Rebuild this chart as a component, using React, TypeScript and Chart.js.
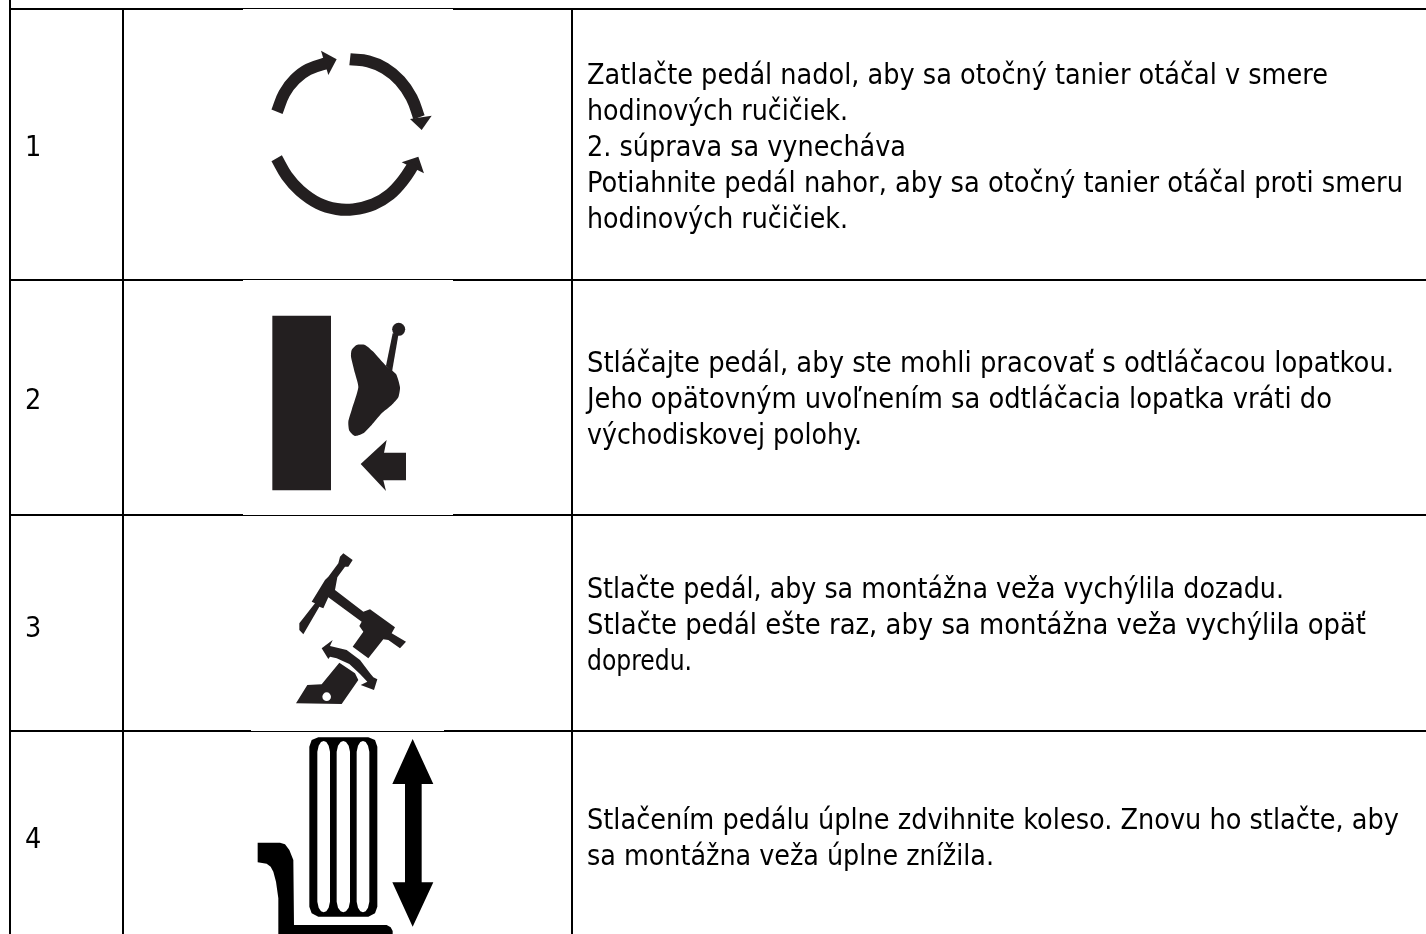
import React, { useEffect, useRef } from "react";
import { Chart, registerables } from "chart.js";

Chart.register(...registerables);

type P = [number, number];

// Table text
const rowNumbers = ["1", "2", "3", "4"];
const rowNumberBaselines = [156, 409, 637, 848];
const rowLines = [
  ["Zatlačte pedál nadol, aby sa otočný tanier otáčal v smere", "hodinových ručičiek.", "2. súprava sa vynecháva", "Potiahnite pedál nahor, aby sa otočný tanier otáčal proti smeru", "hodinových ručičiek."],
  ["Stláčajte pedál, aby ste mohli pracovať s odtláčacou lopatkou.", "Jeho opätovným uvoľnením sa odtláčacia lopatka vráti do", "východiskovej polohy."],
  ["Stlačte pedál, aby sa montážna veža vychýlila dozadu.", "Stlačte pedál ešte raz, aby sa montážna veža vychýlila opäť", "dopredu."],
  ["Stlačením pedálu úplne zdvihnite koleso. Znovu ho stlačte, aby", "sa montážna veža úplne znížila."],
];
const rowLineEnds = [
  [1328, 848, 906, 1403, 848],
  [1394, 1332, 862],
  [1284, 1366, 692],
  [1399, 994],
];
const rowFirstBaselines = [84, 372, 598, 829];

// Table rules: pairs of end points
const thickRules: [P, P][] = [
  [[10, 0], [10, 934]],
  [[123, 9], [123, 934]],
  [[572, 9], [572, 934]],
  [[9, 9], [243, 9]], [[453, 9], [1426, 9]],
  [[9, 280], [243, 280]], [[453, 280], [1426, 280]],
  [[9, 515], [243, 515]], [[453, 515], [1426, 515]],
  [[9, 731], [251, 731]], [[444, 731], [1426, 731]],
];
const thinRules: [P, P][] = [
  [[243, 8.5], [453, 8.5]],
  [[243, 279.5], [453, 279.5]],
  [[243, 515.5], [453, 515.5]],
  [[251, 731.5], [444, 731.5]],
];

// Icon 1 (3x units around 240,30): arc centre lines and arrow heads
const arcRight: P[] = [[330,88],[385,94],[435,115],[480,152],[515,203],[537,262]];
const headRight: P[] = [[575,257],[545,300],[510,267]];
const arcLeft: P[] = [[111,245],[133,190],[165,148],[205,118],[270,96]];
const headLeft: P[] = [[243,62],[290,88],[265,135]];
const arcBottom: P[] = [[110,385],[140,437],[180,482],[235,520],[290,537],[340,538],[400,523],[450,493],[490,450],[522,402]];
const headBottom: P[] = [[485,397],[535,380],[552,430]];

// Icon 2 (3x units around 250,300)
const block: P[] = [[67,47],[243,47],[243,571],[67,571]];
const stick: P[] = [[428,100],[446,100],[426,215],[408,197]];
const knob: P = [446, 88];
const pedal: P[] = [[370,155],[408,197],[438,222],[450,262],[445,292],[425,315],[395,340],[365,375],[340,400],[315,408],[298,392],[295,365],[305,330],[325,262],[315,220],[303,170],[305,150],[320,135],[345,135]];
const pushArrow: P[] = [[410,420],[402,458],[468,458],[468,541],[400,541],[408,573],[332,492]];

// Icon 3 (3x units around 280,540)
const tower: P[] = [[190,40],[218,60],[205,80],[195,80],[172,112],[165,150],[250,215],[270,208],[345,262],[335,280],[378,305],[360,325],[325,300],[310,298],[265,355],[218,320],[250,275],[238,258],[245,245],[145,172],[130,205],[118,200],[70,283],[58,270],[58,250],[105,190],[95,185],[135,120],[145,110],[175,70],[180,50]];
const tiltArrow: P[] = [[125,325],[158,300],[150,318],[200,330],[240,360],[270,400],[280,412],[292,418],[282,450],[242,435],[262,425],[240,402],[208,372],[170,355],[150,350],[145,357]];
const towerBase: P[] = [[178,368],[225,400],[235,420],[185,492],[48,490],[82,435],[125,433]];
const baseHole: P = [140, 470];

// Icon 4 (3x units around 240,725)
const tire: P[] = [[235,37],[385,37],[405,45],[412,65],[412,545],[405,565],[385,575],[235,575],[215,565],[208,545],[208,65],[215,45]];
const groove1: P[] = [[232,80],[236,62],[243,51],[251,48],[259,51],[266,62],[270,80],[270,530],[266,548],[259,559],[251,562],[243,559],[236,548],[232,530]];
const groove2: P[] = [[290,80],[294,62],[302,51],[310,48],[318,51],[326,62],[330,80],[330,530],[326,548],[318,559],[310,562],[302,559],[294,548],[290,530]];
const groove3: P[] = [[350,80],[354,62],[361,51],[369,48],[377,51],[384,62],[388,80],[388,530],[384,548],[377,559],[369,562],[361,559],[354,548],[350,530]];
const liftArrow: P[] = [[518,42],[580,177],[545,177],[545,472],[580,472],[518,605],[457,472],[495,472],[495,177],[457,177]];
const footPedal: P[] = [[53,353],[120,353],[135,358],[148,375],[160,405],[162,600],[440,600],[452,607],[458,618],[458,640],[115,640],[115,520],[108,470],[100,440],[92,425],[80,416],[53,412]];

const DARK = "#231f20";
const BLACK = "#000000";
const FONT = '"DejaVu Sans Condensed", "DejaVu Sans", sans-serif';

const toPx = (pts: P[], ox: number, oy: number) => pts.map(([x, y]) => ({ x: ox + x / 3, y: oy + y / 3 }));

function shape(pts: P[], ox: number, oy: number, color: string, order: number, tension = 0) {
  const data = toPx(pts, ox, oy);
  data.push(data[0]);
  return { type: "line", data, borderWidth: 0, borderColor: color, backgroundColor: color, fill: "shape", pointRadius: 0, tension, order, clip: false };
}
function stroke(pts: P[], ox: number, oy: number, color: string, width: number, order: number) {
  return { type: "line", data: toPx(pts, ox, oy), borderWidth: width, borderColor: color, fill: false, pointRadius: 0, tension: 0.4, order, clip: false, borderCapStyle: "butt" };
}
function dot(p: P, ox: number, oy: number, r: number, color: string, order: number) {
  return { type: "line", data: toPx([p], ox, oy), showLine: false, pointRadius: r, pointBorderWidth: 0, pointBackgroundColor: color, order, clip: false };
}
function rule(seg: [P, P], width: number) {
  return { type: "line", data: seg.map(([x, y]) => ({ x, y })), borderColor: BLACK, borderWidth: width, pointRadius: 0, tension: 0, fill: false, order: 5, borderCapStyle: "butt", clip: false };
}

const textPlugin = {
  id: "tableText",
  afterDatasetsDraw(chart: any) {
    const { ctx, scales } = chart;
    const X = scales.x, Y = scales.y;
    ctx.save();
    ctx.fillStyle = "#000";
    ctx.textBaseline = "alphabetic";
    ctx.textAlign = "left";
    ctx.font = `28.5px ${FONT}`;
    rowNumbers.forEach((n, i) => ctx.fillText(n, X.getPixelForValue(25), Y.getPixelForValue(rowNumberBaselines[i])));
    const left = X.getPixelForValue(587);
    rowLines.forEach((lines, r) => {
      lines.forEach((line, i) => {
        const natural = ctx.measureText(line).width;
        const target = X.getPixelForValue(rowLineEnds[r][i]) - left;
        ctx.save();
        ctx.translate(left, Y.getPixelForValue(rowFirstBaselines[r] + i * 36));
        ctx.scale(target / natural, 1);
        ctx.fillText(line, 0, 0);
        ctx.restore();
      });
    });
    ctx.restore();
  },
};

export default function App() {
  const ref = useRef<HTMLCanvasElement>(null);
  useEffect(() => {
    document.body.style.margin = "0";
    const datasets: any[] = [
      ...thickRules.map((s) => rule(s, 2)),
      ...thinRules.map((s) => rule(s, 1)),
      stroke(arcRight, 240, 30, DARK, 12, 2),
      shape(headRight, 240, 30, DARK, 2),
      stroke(arcLeft, 240, 30, DARK, 12, 2),
      shape(headLeft, 240, 30, DARK, 2),
      stroke(arcBottom, 240, 30, DARK, 12, 2),
      shape(headBottom, 240, 30, DARK, 2),
      shape(block, 250, 300, DARK, 2),
      shape(stick, 250, 300, DARK, 2),
      dot(knob, 250, 300, 6.5, DARK, 2),
      shape(pedal, 250, 300, DARK, 2, 0.2),
      shape(pushArrow, 250, 300, DARK, 2),
      shape(tower, 280, 540, DARK, 2),
      shape(tiltArrow, 280, 540, DARK, 2),
      shape(towerBase, 280, 540, DARK, 2),
      dot(baseHole, 280, 540, 4.3, "#ffffff", 1),
      shape(tire, 240, 725, BLACK, 2),
      shape(groove1, 240, 725, "#ffffff", 1),
      shape(groove2, 240, 725, "#ffffff", 1),
      shape(groove3, 240, 725, "#ffffff", 1),
      shape(liftArrow, 240, 725, BLACK, 2),
      shape(footPedal, 240, 725, BLACK, 2),
    ];
    const chart = new Chart(ref.current as HTMLCanvasElement, {
      type: "line",
      data: { datasets },
      plugins: [textPlugin],
      options: {
        animation: false,
        responsive: false,
        parsing: false,
        normalized: false,
        layout: { padding: 0, autoPadding: false },
        plugins: { legend: { display: false }, tooltip: { enabled: false }, title: { display: false } },
        scales: {
          x: { type: "linear", min: 0, max: 1426, display: false },
          y: { type: "linear", min: 0, max: 934, reverse: true, display: false },
        },
      },
    } as any);
    return () => chart.destroy();
  }, []);
  return <canvas ref={ref} width={1426} height={934} style={{ display: "block" }} />;
}
